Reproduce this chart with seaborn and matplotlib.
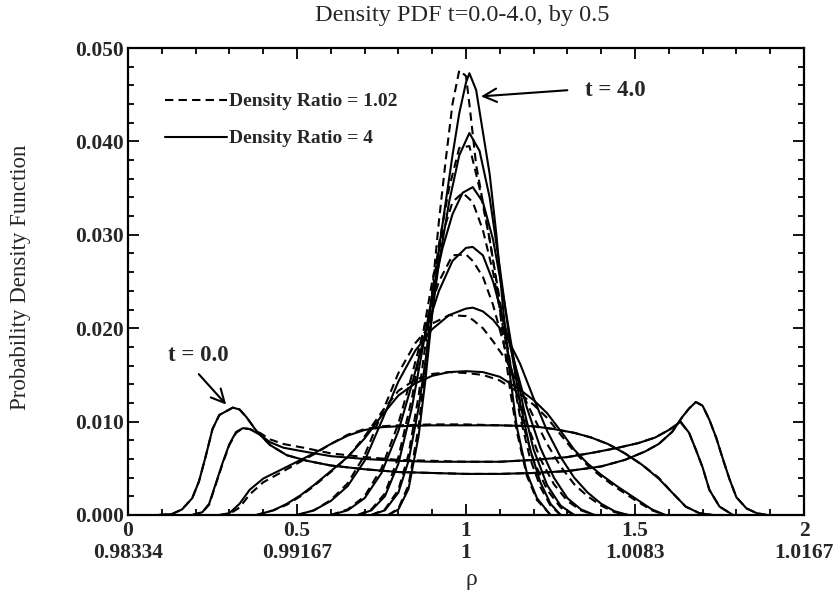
import matplotlib
matplotlib.use("Agg")
import matplotlib.pyplot as plt
from matplotlib.lines import Line2D
from matplotlib.ticker import MultipleLocator
import seaborn as sns
import pandas as pd

# Density values are in units of 0.001
x_t00 = [0.09, 0.13, 0.16, 0.19, 0.21, 0.23, 0.25, 0.27, 0.29, 0.31, 0.33, 0.35, 0.38, 0.42, 0.47, 0.53,
         0.60, 0.70, 0.80, 0.90, 1.00, 1.10, 1.20, 1.30, 1.40, 1.47, 1.53, 1.57, 1.61, 1.64, 1.66, 1.68,
         1.70, 1.72, 1.74, 1.76, 1.78, 1.80, 1.83, 1.86, 1.89]
y_t00_r4 = [0.0, 0.1, 0.6, 1.8, 3.6, 6.3, 9.2, 10.7, 11.1, 11.5, 11.3, 10.5, 9.0, 7.5, 6.4, 5.8,
            5.3, 4.9, 4.6, 4.5, 4.4, 4.4, 4.5, 4.7, 5.2, 5.9, 6.8, 7.6, 8.9, 10.5, 11.4, 12.1,
            11.7, 10.2, 8.3, 6.0, 3.8, 1.9, 0.7, 0.2, 0.0]
y_t00_r102 = [0.0, 0.1, 0.6, 1.8, 3.6, 6.3, 9.2, 10.7, 11.1, 11.5, 11.3, 10.5, 9.0, 7.5, 6.4, 5.8,
              5.3, 4.9, 4.6, 4.5, 4.4, 4.4, 4.5, 4.7, 5.2, 5.9, 6.8, 7.6, 8.9, 10.5, 11.4, 12.1,
              11.7, 10.2, 8.3, 6.0, 3.8, 1.9, 0.7, 0.2, 0.0]

x_t05 = [0.19, 0.22, 0.24, 0.26, 0.28, 0.30, 0.32, 0.34, 0.36, 0.39, 0.42, 0.46, 0.52, 0.60, 0.70, 0.80,
         0.90, 1.00, 1.10, 1.20, 1.30, 1.38, 1.45, 1.51, 1.56, 1.60, 1.635, 1.66, 1.68, 1.70, 1.72, 1.75, 1.79]
y_t05_r4 = [0.0, 0.3, 1.2, 3.4, 5.6, 7.6, 8.9, 9.3, 9.2, 8.6, 7.8, 7.2, 6.8, 6.3, 6.0, 5.8,
            5.7, 5.7, 5.7, 5.9, 6.2, 6.7, 7.2, 7.7, 8.3, 9.1, 10.0, 8.8, 7.0, 5.1, 2.7, 0.9, 0.0]
y_t05_r102 = [0.0, 0.3, 1.1, 3.3, 5.5, 7.5, 8.8, 9.3, 9.2, 8.8, 8.1, 7.6, 7.2, 6.6, 6.2, 5.9,
              5.8, 5.7, 5.7, 5.9, 6.2, 6.7, 7.2, 7.7, 8.3, 9.1, 9.9, 8.8, 7.0, 5.1, 2.7, 0.9, 0.0]

x_t10 = [0.27, 0.30, 0.33, 0.36, 0.40, 0.45, 0.50, 0.55, 0.60, 0.65, 0.70, 0.75, 0.80, 0.90, 1.00,
         1.10, 1.20, 1.26, 1.32, 1.37, 1.42, 1.47, 1.52, 1.57, 1.61, 1.65, 1.69, 1.73]
y_t10_r4 = [0.0, 0.2, 1.2, 2.7, 3.9, 4.8, 5.7, 6.6, 7.6, 8.5, 9.1, 9.4, 9.5, 9.6, 9.6,
            9.6, 9.5, 9.2, 8.8, 8.3, 7.6, 6.6, 5.4, 3.9, 2.4, 0.9, 0.2, 0.0]
y_t10_r102 = [0.0, 0.1, 0.8, 2.2, 3.5, 4.5, 5.5, 6.5, 7.6, 8.6, 9.2, 9.5, 9.6, 9.7, 9.7,
              9.6, 9.5, 9.2, 8.8, 8.3, 7.6, 6.6, 5.4, 4.0, 2.4, 0.9, 0.2, 0.0]

x_t15 = [0.38, 0.43, 0.47, 0.51, 0.55, 0.60, 0.65, 0.70, 0.75, 0.80, 0.85, 0.90, 0.95, 1.00, 1.05,
         1.10, 1.16, 1.20, 1.24, 1.28, 1.32, 1.36, 1.40, 1.45, 1.50, 1.55, 1.59]
y_t15_r4 = [0.0, 0.5, 1.2, 2.1, 3.2, 4.7, 6.2, 8.2, 10.6, 12.8, 14.1, 14.9, 15.3, 15.4, 15.3,
            14.8, 13.4, 12.3, 10.9, 9.0, 7.0, 5.5, 4.3, 3.0, 1.8, 0.6, 0.0]
y_t15_r102 = [0.0, 0.5, 1.1, 2.0, 3.1, 4.6, 6.2, 8.4, 11.0, 13.3, 14.5, 15.1, 15.3, 15.2, 15.0,
              14.4, 13.0, 11.8, 10.4, 8.6, 6.8, 5.3, 4.1, 2.8, 1.6, 0.5, 0.0]

x_t20 = [0.50, 0.55, 0.60, 0.65, 0.70, 0.75, 0.80, 0.85, 0.90, 0.95, 1.00, 1.02, 1.05, 1.08, 1.12,
         1.16, 1.20, 1.24, 1.28, 1.32, 1.36, 1.40, 1.44, 1.48]
y_t20_r4 = [0.0, 0.5, 1.5, 3.1, 5.8, 10.0, 14.3, 17.6, 19.9, 21.4, 22.1, 22.2, 21.8, 20.9, 19.1,
            16.2, 12.5, 9.0, 6.2, 4.0, 2.4, 1.2, 0.4, 0.0]
y_t20_r102 = [0.0, 0.5, 1.6, 3.4, 6.4, 10.8, 15.2, 18.4, 20.5, 21.4, 21.3, 20.9, 20.0, 18.6, 16.5,
              13.5, 10.5, 7.6, 5.2, 3.3, 2.0, 1.0, 0.3, 0.0]

x_t25 = [0.60, 0.65, 0.70, 0.75, 0.80, 0.84, 0.88, 0.92, 0.96, 1.00, 1.02, 1.05, 1.08, 1.11, 1.14,
         1.18, 1.22, 1.26, 1.30, 1.34, 1.38]
y_t25_r4 = [0.0, 0.5, 1.8, 4.5, 9.0, 14.0, 19.5, 24.0, 27.2, 28.6, 28.7, 27.8, 25.0, 21.0, 16.8,
            11.5, 7.2, 4.0, 1.8, 0.6, 0.0]
y_t25_r102 = [0.0, 0.6, 2.0, 5.0, 9.8, 15.0, 20.5, 25.0, 27.8, 27.9, 27.2, 25.5, 22.5, 18.5, 14.5,
              9.8, 6.0, 3.3, 1.5, 0.5, 0.0]

x_t30 = [0.68, 0.72, 0.76, 0.80, 0.84, 0.87, 0.90, 0.93, 0.96, 0.99, 1.02, 1.05, 1.08, 1.11, 1.14,
         1.17, 1.20, 1.24, 1.28, 1.32]
y_t30_r4 = [0.0, 0.5, 2.0, 5.5, 11.5, 17.5, 23.5, 28.5, 32.2, 34.5, 35.1, 33.5, 29.5, 23.5, 17.0,
            11.5, 7.0, 3.2, 1.0, 0.0]
y_t30_r102 = [0.0, 0.6, 2.3, 6.2, 12.5, 18.8, 25.0, 30.0, 33.5, 34.5, 33.5, 30.5, 26.0, 20.0, 14.5,
              9.5, 5.8, 2.7, 0.8, 0.0]

x_t35 = [0.72, 0.76, 0.80, 0.83, 0.86, 0.89, 0.92, 0.95, 0.98, 1.01, 1.04, 1.07, 1.10, 1.13, 1.16,
         1.19, 1.22, 1.25, 1.28]
y_t35_r4 = [0.0, 0.5, 2.4, 5.8, 11.5, 19.0, 27.0, 33.5, 38.5, 40.9, 39.0, 34.0, 26.5, 18.5, 12.0,
            7.0, 3.5, 1.2, 0.0]
y_t35_r102 = [0.0, 0.6, 2.7, 6.5, 12.8, 21.0, 29.0, 35.0, 39.3, 39.5, 35.0, 29.5, 23.0, 16.5, 10.5,
              6.0, 3.0, 1.0, 0.0]

x_t40 = [0.77, 0.80, 0.83, 0.86, 0.88, 0.90, 0.92, 0.94, 0.96, 0.98, 1.00, 1.01, 1.03, 1.05, 1.07,
         1.09, 1.11, 1.13, 1.15, 1.18, 1.21, 1.25]
y_t40_r4 = [0.0, 0.6, 2.8, 8.5, 14.5, 21.5, 28.5, 33.5, 38.5, 43.0, 46.3, 47.3, 45.5, 41.0, 36.5,
            30.0, 22.0, 15.0, 9.5, 4.5, 1.8, 0.0]
y_t40_r102 = [0.0, 0.7, 3.2, 9.5, 16.0, 24.0, 31.5, 38.0, 44.0, 47.6, 47.0, 44.0, 37.5, 33.5, 29.5,
              25.0, 19.0, 13.5, 9.0, 4.2, 1.6, 0.0]

times = [0.0, 0.5, 1.0, 1.5, 2.0, 2.5, 3.0, 3.5, 4.0]
x_lists = [x_t00, x_t05, x_t10, x_t15, x_t20, x_t25, x_t30, x_t35, x_t40]
y_r4 = [y_t00_r4, y_t05_r4, y_t10_r4, y_t15_r4, y_t20_r4, y_t25_r4, y_t30_r4, y_t35_r4, y_t40_r4]
y_r102 = [y_t00_r102, y_t05_r102, y_t10_r102, y_t15_r102, y_t20_r102, y_t25_r102, y_t30_r102,
          y_t35_r102, y_t40_r102]

x_major = [0, 0.5, 1, 1.5, 2]
x_top_labels = ["0", "0.5", "1", "1.5", "2"]
x_rho_labels = ["0.98334", "0.99167", "1", "1.0083", "1.0167"]
legend_labels = ["Density Ratio = 1.02", "Density Ratio = 4"]

# Build a long table for seaborn
rows = []
for t, xs, a, b in zip(times, x_lists, y_r4, y_r102):
    for x, y in zip(xs, a):
        rows.append({"t": t, "ratio": "4", "rho": x, "pdf": y / 1000})
    for x, y in zip(xs, b):
        rows.append({"t": t, "ratio": "1.02", "rho": x, "pdf": y / 1000})
df = pd.DataFrame(rows)

sns.set_theme(style="ticks")
plt.rcParams["font.family"] = ["Liberation Serif", "DejaVu Serif"]

fig = plt.figure(figsize=(8.33, 5.98), dpi=100)
ax = fig.add_axes([128 / 833, 1 - 515 / 598, 676 / 833, 467 / 598])

dash = (4, 2.5)
sns.lineplot(data=df, x="rho", y="pdf", units="t", style="ratio", estimator=None,
             dashes={"4": "", "1.02": dash}, color="black", sort=False, legend=False,
             linewidth=1.5, ax=ax)

ax.set_xlim(0, 2)
ax.set_ylim(0, 0.05)
ax.set_xlabel("")
ax.set_ylabel("")
ax.set_xticks(x_major)
ax.set_xticklabels([f"{a}\n{b}" for a, b in zip(x_top_labels, x_rho_labels)],
                   fontsize=15.5, fontweight="bold", linespacing=1.15)
ax.xaxis.set_minor_locator(MultipleLocator(0.1))
ax.yaxis.set_major_locator(MultipleLocator(0.01))
ax.yaxis.set_minor_locator(MultipleLocator(0.002))
ax.set_yticklabels([f"{v:.3f}" for v in ax.get_yticks()], fontsize=15.5, fontweight="bold")
ax.tick_params(which="both", direction="in", top=True, right=True, color="black", width=1.3)
ax.tick_params(which="major", length=8)
ax.tick_params(which="minor", length=4.5)
ax.tick_params(axis="x", which="major", pad=4.5)
ax.tick_params(axis="y", which="major", pad=3)
for s in ax.spines.values():
    s.set_linewidth(1.6)
    s.set_color("black")

fig.text(462 / 833, 1 - 15 / 598, "Density PDF t=0.0-4.0, by 0.5", ha="center", va="center",
         fontsize=17.5)
fig.text(21 / 833, 1 - 277 / 598, "Probability Density Function", rotation=90, ha="center",
         va="center", fontsize=16.5)
fig.text(471 / 833, 1 - 580 / 598, "ρ", ha="center", va="center", fontsize=17)

# Annotations
arrow = dict(arrowstyle="->", color="black", lw=1.5, mutation_scale=24)
ax.annotate("", xy=(1.036, 0.0448), xytext=(1.308, 0.0455), arrowprops=arrow)
ax.text(1.352, 0.0454, "t = 4.0", ha="left", va="center", fontsize=16.5, fontweight="bold")
ax.annotate("", xy=(0.296, 0.0116), xytext=(0.204, 0.0153), arrowprops=arrow)
ax.text(0.207, 0.0171, "t = 0.0", ha="center", va="center", fontsize=16.5, fontweight="bold")

handles = [Line2D([], [], color="black", lw=1.5, dashes=dash),
           Line2D([], [], color="black", lw=1.5)]
ax.legend(handles, legend_labels, loc="upper left", bbox_to_anchor=(0.0547, 0.904),
          frameon=False, handlelength=3.2, handletextpad=0.1, labelspacing=1.0,
          borderpad=0, borderaxespad=0, prop=dict(weight="bold", size=14))

fig.savefig("out.png", dpi=100)
